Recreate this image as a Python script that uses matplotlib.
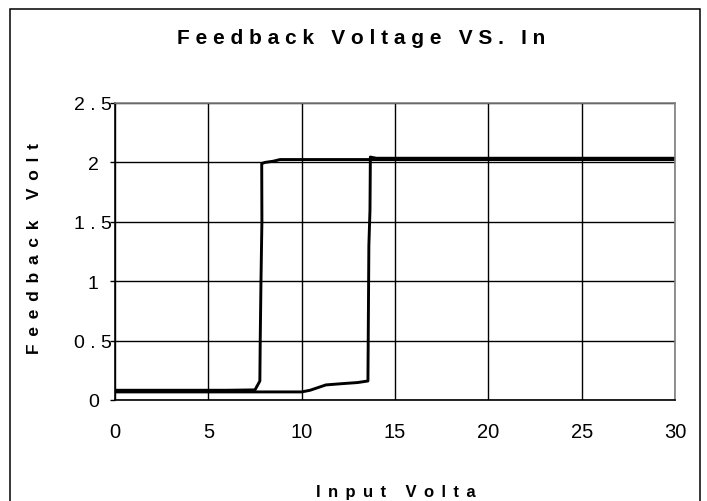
import matplotlib
matplotlib.use("Agg")
import matplotlib.pyplot as plt
from matplotlib.patches import Rectangle

plt.rcParams["font.family"] = ["Liberation Sans", "DejaVu Sans"]

# rising input sweep (output switches high near 13.6 V)
up_x = [0, 2, 4, 6, 8, 10.0, 10.45, 11.3, 12.2, 13.0, 13.55, 13.6, 13.66, 13.68, 14, 16, 20, 25, 30]
up_y = [0.068, 0.068, 0.068, 0.068, 0.068, 0.068, 0.082, 0.127, 0.138, 0.147, 0.16, 1.3, 1.6, 2.045, 2.035, 2.035, 2.035, 2.035, 2.035]

# falling input sweep (output switches low near 7.8 V)
down_x = [30, 25, 20, 15, 10, 8.84, 8.48, 8.04, 7.86, 7.87, 7.82, 7.78, 7.76, 7.5, 6, 4, 2, 0]
down_y = [2.024, 2.024, 2.024, 2.024, 2.024, 2.024, 2.01, 2.0, 1.99, 1.5, 1.0, 0.5, 0.16, 0.085, 0.082, 0.082, 0.082, 0.082]

x_ticks = [0, 5, 10, 15, 20, 25, 30]
y_ticks = [0, 0.5, 1, 1.5, 2, 2.5]
y_tick_labels = ["0", "0 . 5", "1", "1 . 5", "2", "2 . 5"]

title = "Feedback Voltage VS. In"
x_label = "Input Volta"
y_label = "Feedback Volt"


def spaced(s, gap=" "):
    # fake the wide Excel letter spacing
    return gap.join(s)


W, H = 707, 502
fig = plt.figure(figsize=(W / 100, H / 100), dpi=100)
ax = fig.add_axes([115 / W, 1 - 401 / H, 560 / W, 297 / H])

ax.plot(up_x, up_y, color="black", lw=2.1, solid_joinstyle="round")
ax.plot(down_x, down_y, color="black", lw=2.1, solid_joinstyle="round")

ax.set_xlim(0, 30)
ax.set_ylim(0, 2.5)
ax.set_xticks(x_ticks)
ax.set_yticks(y_ticks)
ax.set_yticklabels(y_tick_labels, ha="center")
ax.grid(True, color="black", lw=1.0)
ax.set_axisbelow(True)

ax.tick_params(axis="x", length=0, pad=16, labelsize=14.5)
ax.tick_params(axis="y", length=3.6, width=1.0, pad=12, labelsize=14, direction="out")

for side in ("left", "bottom"):
    ax.spines[side].set_color("black")
    ax.spines[side].set_linewidth(1.2)
for side in ("top", "right"):
    ax.spines[side].set_color("#808080")
    ax.spines[side].set_linewidth(1.2)

wide = " \u2006"
fig.text(361 / W, 1 - 39 / H, spaced(title), ha="center", va="center",
         fontsize=15, fontweight="bold")
fig.text(396 / W, 1 - 497 / H, spaced(x_label, wide), ha="center", va="baseline",
         fontsize=12, fontweight="bold")
fig.text(34.5 / W, 1 - 249 / H, spaced(y_label, wide), ha="center", va="center",
         rotation=90, fontsize=12.5, fontweight="bold")

# outer chart frame, runs off the bottom edge like the original
fig.patches.append(Rectangle((9.5 / W, -0.1), 690 / W, 1.1 - 9.5 / H,
                             transform=fig.transFigure, fill=False,
                             edgecolor="black", lw=1.1))

fig.savefig("out.png", dpi=100)
